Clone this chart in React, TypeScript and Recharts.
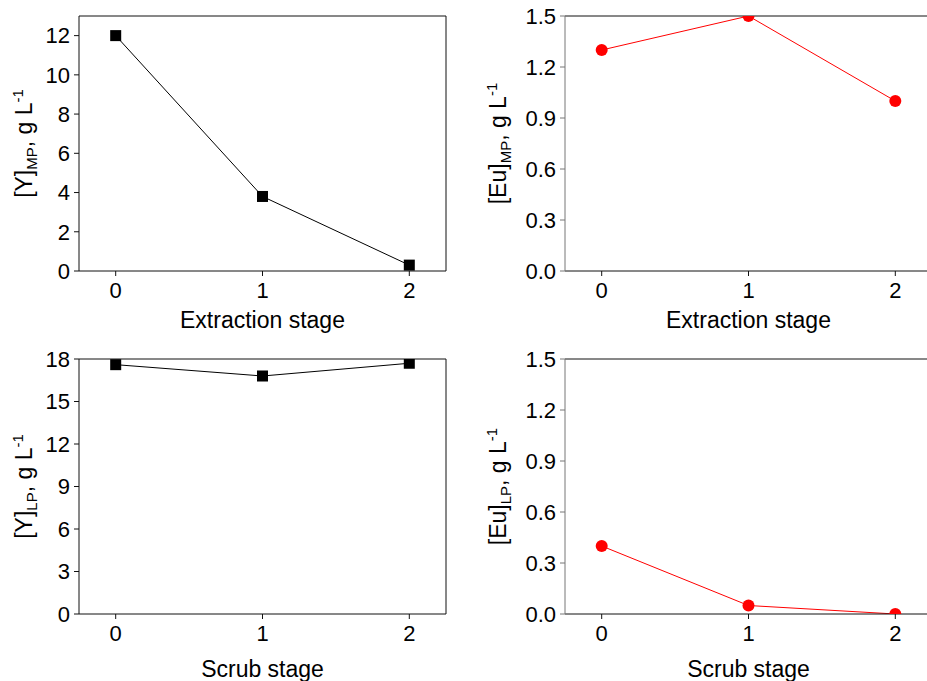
import React from 'react';
import { LineChart, Line, XAxis, YAxis, ReferenceLine } from 'recharts';

const stages = [0, 1, 2];
const yMP = [12, 3.8, 0.3];
const euMP = [1.3, 1.5, 1.0];
const yLP = [17.6, 16.8, 17.7];
const euLP = [0.4, 0.05, 0.0];

const stageTicks = [0, 1, 2];
const yMPTicks = [0, 2, 4, 6, 8, 10, 12];
const yLPTicks = [0, 3, 6, 9, 12, 15, 18];
const euTicks = [0, 0.3, 0.6, 0.9, 1.2, 1.5];

const FONT = '"Liberation Sans", Arial, sans-serif';
const X_MIN = -0.25;
const X_MAX = 2.25;

const toRows = (vals: number[]) => stages.map((x, i) => ({ x, v: vals[i] }));

const SquareDot = (props: any) => {
  const { cx, cy } = props;
  if (cx == null || cy == null) return null;
  return <rect x={cx - 5.5} y={cy - 5.5} width={11} height={11} fill="#000" />;
};

const CircleDot = (props: any) => {
  const { cx, cy } = props;
  if (cx == null || cy == null) return null;
  return <circle cx={cx} cy={cy} r={6} fill="#ff0000" />;
};

interface PanelProps {
  values: number[];
  domainMax: number;
  ticks: number[];
  left: number;
  top: number;
  red?: boolean;
}

const Panel: React.FC<PanelProps> = ({ values, domainMax, ticks, left, top, red = false }) => {
  const leftColor = red ? '#777' : '#111';
  const tickStyle = { fontSize: 22, fill: '#000', fontFamily: FONT };
  return (
    <div style={{ position: 'absolute', left, top }}>
      <LineChart width={460} height={340} data={toRows(values)} margin={{ top: 16, right: 14, bottom: 0, left: 0 }}>
        <XAxis
          dataKey="x"
          type="number"
          domain={[X_MIN, X_MAX]}
          ticks={stageTicks}
          height={69}
          tickSize={5}
          tickMargin={6}
          tick={tickStyle}
          stroke="#111"
          allowDataOverflow
        />
        <YAxis
          type="number"
          domain={[0, domainMax]}
          ticks={ticks}
          width={79}
          tickSize={5}
          tickMargin={4}
          tick={tickStyle}
          stroke={leftColor}
          tickFormatter={(t: number) => (red ? t.toFixed(1) : String(t))}
          allowDataOverflow
        />
        {/* box: top and right edges */}
        <ReferenceLine y={domainMax} stroke="#111" strokeWidth={1} ifOverflow="visible" />
        <ReferenceLine x={X_MAX} stroke="#111" strokeWidth={1} ifOverflow="visible" />
        <Line
          dataKey="v"
          stroke={red ? '#ff0000' : '#000'}
          strokeWidth={1}
          dot={red ? <CircleDot /> : <SquareDot />}
          activeDot={false}
          isAnimationActive={false}
        />
      </LineChart>
    </div>
  );
};

const YTitle = ({ x, y, main, sub }: { x: number; y: number; main: string; sub: string }) => (
  <text transform={`translate(${x},${y}) rotate(-90)`} textAnchor="middle" fontSize={23} fontFamily={FONT} fill="#000">
    <tspan>{main}</tspan>
    <tspan fontSize={15} dy={5}>{sub}</tspan>
    <tspan dy={-5}>, g L</tspan>
    <tspan fontSize={15} dy={-9}>-1</tspan>
  </text>
);

const XTitle = ({ x, y, text }: { x: number; y: number; text: string }) => (
  <text x={x} y={y} textAnchor="middle" fontSize={23} fontFamily={FONT} fill="#000">
    {text}
  </text>
);

export default function App() {
  return (
    <div style={{ position: 'absolute', left: 0, top: 0, width: 927, height: 681, overflow: 'hidden', background: '#fff' }}>
      <Panel values={yMP} domainMax={13} ticks={yMPTicks} left={0} top={0} />
      <Panel values={euMP} domainMax={1.5} ticks={euTicks} left={486} top={0} red />
      <Panel values={yLP} domainMax={18} ticks={yLPTicks} left={0} top={343} />
      <Panel values={euLP} domainMax={1.5} ticks={euTicks} left={486} top={343} red />
      <svg width={927} height={681} style={{ position: 'absolute', left: 0, top: 0, pointerEvents: 'none' }}>
        <YTitle x={31.5} y={143.5} main="[Y]" sub="MP" />
        <YTitle x={506} y={143.5} main="[Eu]" sub="MP" />
        <YTitle x={31.5} y={486.5} main="[Y]" sub="LP" />
        <YTitle x={506} y={486.5} main="[Eu]" sub="LP" />
        <XTitle x={262.5} y={328} text="Extraction stage" />
        <XTitle x={748.5} y={328} text="Extraction stage" />
        <XTitle x={262.5} y={677} text="Scrub stage" />
        <XTitle x={748.5} y={677} text="Scrub stage" />
      </svg>
    </div>
  );
}
